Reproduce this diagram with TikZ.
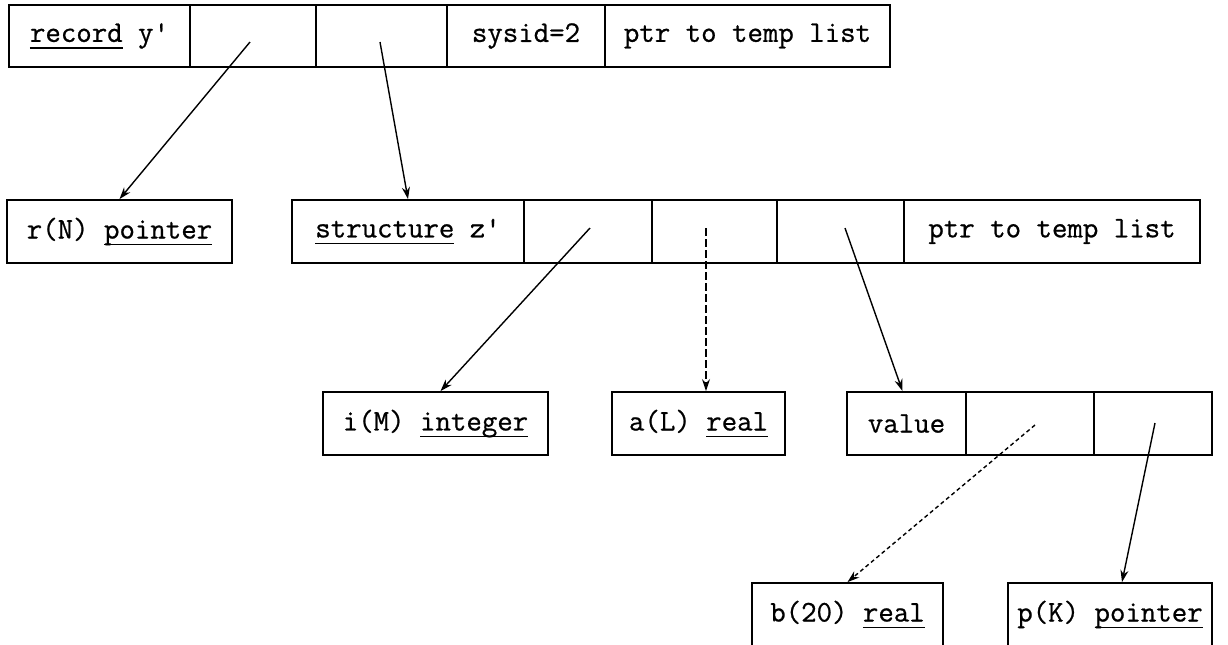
\documentclass[tikz,border=0pt]{standalone}
\usepackage{fontspec}
\usetikzlibrary{arrows.meta,calc}

% typewriter face, a little heavier than the default mono
\newfontfamily\tyfam[FakeBold=0.7]{Latin Modern Mono}
\newcommand\tyface{\tyfam\fontsize{15}{17}\selectfont}

% typewriter-style underline that runs through descenders
\newcommand\tyul[1]{\setbox0\hbox{#1}\rlap{\rule[-3.4pt]{\wd0}{0.85pt}}\box0\relax}

\tikzset{
  cell/.style={draw, line width=0.9pt, inner sep=0pt, minimum height=31.5pt,
    font=\tyface},
  ptr/.style={line width=0.7pt, -{Stealth[length=6pt,width=4pt]}},
  faint/.style={ptr, dash pattern=on 4pt off 1.5pt},
  dotty/.style={ptr, dash pattern=on 2pt off 1.5pt},
}

\begin{document}
\begin{tikzpicture}[x=0.5pt,y=-0.5pt]
\useasboundingbox (0,0) rectangle (1228,644);
\clip (0,0) rectangle (1228,644);

% record y'
\node[cell, minimum width=90.5pt, minimum height=31pt] (ry)   at (99.5,36)  {\tyul{record} y'};
\node[cell, minimum width=63pt,   minimum height=31pt] (rc2)  at (253,36)   {};
\node[cell, minimum width=65.5pt, minimum height=31pt] (rc3)  at (381.5,36) {};
\node[cell, minimum width=79pt,   minimum height=31pt] (rsys) at (526,36)   {sysid=2};
\node[cell, minimum width=142.5pt,minimum height=31pt] (rptr) at (747.5,36) {ptr to temp list};

% r(N) pointer and structure z'
\node[cell, minimum width=112.5pt] (rn)   at (119.5,231.5) {r(N) \tyul{pointer}};
\node[cell, minimum width=116pt]   (sz)   at (408,231.5)   {\tyul{structure} z'};
\node[cell, minimum width=64pt]    (s2)   at (588,231.5)   {};
\node[cell, minimum width=62.5pt]  (s3)   at (714.5,231.5) {};
\node[cell, minimum width=63.5pt]  (s4)   at (840.5,231.5) {};
\node[cell, minimum width=148pt]   (sptr) at (1052,231.5)  {ptr to temp list};

% components of z'
\node[cell, minimum width=112.5pt] (im)  at (435.5,423.5) {i(M) \tyul{integer}};
\node[cell, minimum width=86.5pt]  (al)  at (698.5,423.5) {a(L) \tyul{real}};
\node[cell, minimum width=59.5pt]  (val) at (906.5,423.5) {value};
\node[cell, minimum width=64pt]    (v2)  at (1030,423.5)  {};
\node[cell, minimum width=59pt]    (v3)  at (1153,423.5)  {};

% components of value
\node[cell, minimum width=95.5pt] (b20) at (847.5,614.5) {b(20) \tyul{real}};
\node[cell, minimum width=102pt]  (pk)  at (1110,614.5)  {p(K) \tyul{pointer}};

% pointer origins inside the cells
\coordinate (o1) at (250,42);
\coordinate (o2) at (380,42);
\coordinate (o3) at (590,228);
\coordinate (o4) at (706,228);
\coordinate (o5) at (845,228);
\coordinate (o6) at (1035,425);
\coordinate (o7) at (1155,423);

\draw[ptr]   (o1) -- (rn.north);
\draw[ptr]   (o2) -- (sz.north);
\draw[ptr]   (o3) -- ($(im.north)+(5,0)$);
\draw[faint] (o4) -- (al.north -| o4);
\draw[ptr]   (o5) -- ($(val.north)+(-4,0)$);
\draw[dotty] (o6) -- (b20.north);
\draw[ptr]   (o7) -- ($(pk.north)+(12,0)$);
\end{tikzpicture}
\end{document}
